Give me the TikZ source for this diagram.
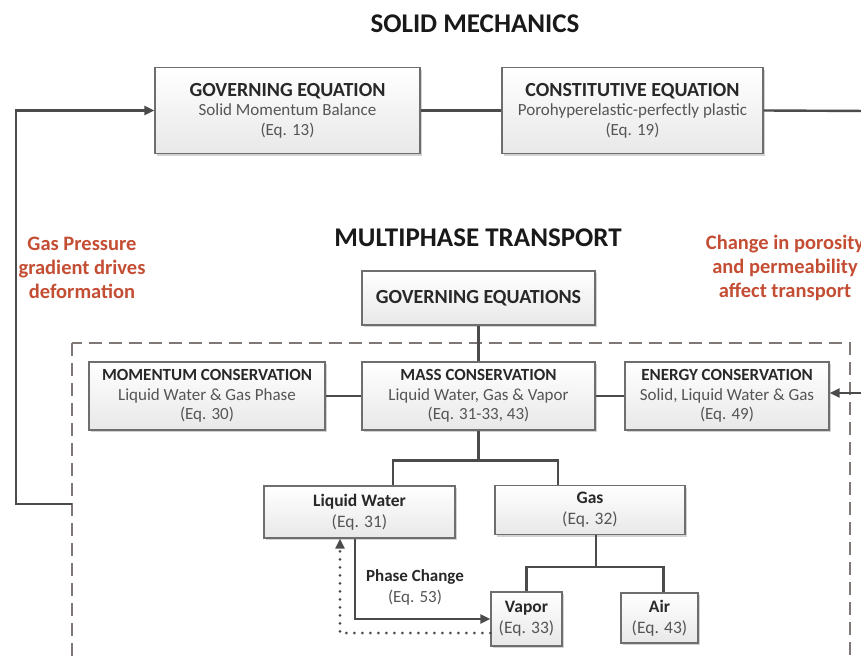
\documentclass[tikz,border=0pt]{standalone}
\usepackage{fontspec}
\setmainfont{Carlito}
\usetikzlibrary{arrows.meta,shadows}

\begin{document}
\begin{tikzpicture}[x=1pt,y=-1pt,
  eqbox/.style={draw=boxColor, line width=1.3pt, top color=white, bottom color=boxFill,
    drop shadow={shadow xshift=2pt, shadow yshift=-2pt, opacity=0.35},
    align=center, inner sep=2pt, text=subColor, font=\fontsize{17}{19.5}\selectfont},
  headTitle/.style={font=\fontsize{27}{30}\selectfont\bfseries, text=headColor},
  noteText/.style={align=center, text=noteColor, font=\fontsize{20.5}{24}\selectfont\bfseries},
  link/.style={draw=lineColor, line width=2.4pt},
  linkArrow/.style={link, -{Triangle[length=10pt,width=9pt]}}]
% Colors
\definecolor{boxColor}{RGB}{110,110,110}
\definecolor{boxFill}{RGB}{232,232,232}
\definecolor{lineColor}{RGB}{75,75,75}
\definecolor{headColor}{RGB}{25,25,25}
\definecolor{titleColor}{RGB}{40,40,40}
\definecolor{subColor}{RGB}{85,85,85}
\definecolor{noteColor}{RGB}{196,78,52}
\definecolor{dashColor}{RGB}{128,120,118}
\clip (0,0) rectangle (861,661);
% Dashed frame
\draw[dashColor, line width=2pt, dash pattern=on 13pt off 7pt] (72,343) rectangle (850,720);
% Headings and notes
\node[headTitle] (solidHead) at (475,24) {SOLID MECHANICS};
\node[headTitle] (multiHead) at (478,238) {MULTIPHASE TRANSPORT};
\node[noteText] (gasNote) at (82,268) {Gas Pressure\\gradient drives\\deformation};
\node[noteText] (poroNote) at (785,268) {Change in porosity\\and permeability\\affect transport};
% Solid mechanics boxes
\node[eqbox, minimum width=265pt, minimum height=86pt] (govSolid) at (287.5,110.5)
  {{\fontsize{20}{21}\selectfont\bfseries\color{titleColor}GOVERNING EQUATION}\\Solid Momentum Balance\\(Eq. 13)};
\node[eqbox, minimum width=261pt, minimum height=86pt] (constit) at (632.5,110.5)
  {{\fontsize{20}{21}\selectfont\bfseries\color{titleColor}CONSTITUTIVE EQUATION}\\Porohyperelastic-perfectly plastic\\(Eq. 19)};
% Transport boxes
\node[eqbox, minimum width=233pt, minimum height=54pt, font=\fontsize{20}{22}\selectfont\bfseries, text=titleColor] (govEqs) at (478.5,298) {GOVERNING EQUATIONS};
\node[eqbox, minimum width=236pt, minimum height=68pt] (momentum) at (207,396)
  {{\bfseries\color{titleColor}MOMENTUM CONSERVATION}\\Liquid Water \& Gas Phase\\(Eq. 30)};
\node[eqbox, minimum width=233pt, minimum height=68pt] (mass) at (478.5,396)
  {{\bfseries\color{titleColor}MASS CONSERVATION}\\Liquid Water, Gas \& Vapor\\(Eq. 31-33, 43)};
\node[eqbox, minimum width=204pt, minimum height=68pt] (energy) at (727,396)
  {{\bfseries\color{titleColor}ENERGY CONSERVATION}\\Solid, Liquid Water \& Gas\\(Eq. 49)};
\node[eqbox, minimum width=191pt, minimum height=52pt, font=\fontsize{17.5}{21}\selectfont] (liquid) at (359.5,512)
  {{\bfseries\color{titleColor}Liquid Water}\\(Eq. 31)};
\node[eqbox, minimum width=190pt, minimum height=49pt, font=\fontsize{17.5}{21}\selectfont] (gas) at (590,510)
  {{\bfseries\color{titleColor}Gas}\\(Eq. 32)};
\node[eqbox, minimum width=71pt, minimum height=54pt, font=\fontsize{17.5}{21}\selectfont] (vapor) at (526.5,619)
  {{\bfseries\color{titleColor}Vapor}\\(Eq. 33)};
\node[eqbox, minimum width=77pt, minimum height=50pt, font=\fontsize{17.5}{21}\selectfont] (air) at (659.5,618)
  {{\bfseries\color{titleColor}Air}\\(Eq. 43)};
\node[align=center, text=titleColor, font=\fontsize{17}{21}\selectfont] (phaseLabel) at (415,587)
  {\textbf{Phase Change}\\{\color{subColor}(Eq. 53)}};
% Free ends
\coordinate (rightOut) at (870,111);
\coordinate (rightIn) at (870,393);
\coordinate (frameLeft) at (72,504);
\coordinate (leftCorner) at (16,504);
% Connectors
\draw[link] (govSolid.east) -- (constit.west);
\draw[link] (constit.east) -- (rightOut);
\draw[linkArrow] (frameLeft) -- (leftCorner) |- (govSolid.west);
\draw[linkArrow] (rightIn) -- (energy.east |- rightIn);
\draw[link] (govEqs.south) -- (mass.north);
\draw[link] (momentum.east) -- (mass.west);
\draw[link] (mass.east) -- (energy.west);
\draw[link] (mass.south) -- ++(0,30) -| ([xshift=33.5pt]liquid.north);
\draw[link] (mass.south) ++(0,30) -| ([xshift=-32pt]gas.north);
\draw[link] ([xshift=6pt]gas.south) -- ++(0,32) -| (vapor.north);
\draw[link] ([xshift=6pt]gas.south) ++(0,32) -| ([xshift=4pt]air.north);
\draw[linkArrow] ([xshift=-4.5pt]liquid.south) |- (vapor.west);
\draw[lineColor, line width=3pt, dash pattern=on 0pt off 8pt, line cap=round,
  -{Triangle[length=10pt,width=9pt]}] ([yshift=-14pt]vapor.west) -| ([xshift=-19.5pt]liquid.south);
\end{tikzpicture}
\end{document}
